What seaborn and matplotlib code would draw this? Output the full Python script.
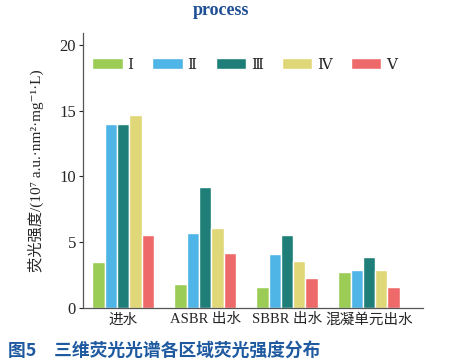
import matplotlib
matplotlib.use("Agg")
import matplotlib.pyplot as plt
import seaborn as sns
import pandas as pd

# 数据
groups = ['进水', 'ASBR 出水', 'SBBR 出水', '混凝单元出水']
regions = ['Ⅰ', 'Ⅱ', 'Ⅲ', 'Ⅳ', 'Ⅴ']
region_I = [3.5, 1.8, 1.55, 2.75]
region_II = [14.0, 5.7, 4.1, 2.85]
region_III = [13.95, 9.2, 5.55, 3.9]
region_IV = [14.7, 6.1, 3.55, 2.9]
region_V = [5.55, 4.2, 2.3, 1.55]
palette = ['#9bcc55', '#4fb4e6', '#1f7f78', '#e0d878', '#ee6a6a']

rows = []
for reg, vals in zip(regions, [region_I, region_II, region_III, region_IV, region_V]):
    for g, v in zip(groups, vals):
        rows.append({'group': g, 'region': reg, 'value': v})
df = pd.DataFrame(rows)

sns.set_theme(style="ticks")
fonts = ['Liberation Serif', 'DejaVu Serif', 'Noto Sans CJK SC']
plt.rcParams['font.family'] = fonts
plt.rcParams['axes.unicode_minus'] = False

fig = plt.figure(figsize=(4.51, 3.63), dpi=100)
ax = fig.add_axes([0.184, 0.152, 0.754, 0.757])

sns.barplot(data=df, x='group', y='value', hue='region', order=groups,
            hue_order=regions, palette=palette, width=0.75, saturation=1,
            ax=ax, errorbar=None)

ax.set_xlim(-0.49, 3.66)
ax.set_ylim(0, 20.9)
ax.set_yticks([0, 5, 10, 15, 20])
ax.tick_params(axis='y', direction='out', length=3, width=0.8, labelsize=12, pad=2)
ax.tick_params(axis='x', length=0, labelsize=10.5, pad=4)
ax.set_xlabel('')
ax.set_ylabel('荧光强度/(10⁷ a.u.·nm²·mg⁻¹·L)', fontsize=11, labelpad=11)
for s in ['top', 'right']:
    ax.spines[s].set_visible(False)
for s in ['left', 'bottom']:
    ax.spines[s].set_color('#555555')
    ax.spines[s].set_linewidth(0.9)

ax.legend(loc='upper center', bbox_to_anchor=(0.475, 0.96), ncol=5, frameon=False,
          fontsize=11, handlelength=2.0, handleheight=0.8, handletextpad=0.3,
          columnspacing=1.25, title=None)

fig.text(0.49, 0.972, 'process', ha='center', va='center', fontsize=13,
         fontweight='bold', color='#1f4f96')
fig.text(0.018, 0.035, '图5\u3000三维荧光光谱各区域荧光强度分布', ha='left', va='center',
         fontsize=12.8, fontweight='bold', color='#1f5aa0',
         family=['Noto Sans CJK SC', 'DejaVu Sans'])

fig.savefig('out.png', dpi=100)
